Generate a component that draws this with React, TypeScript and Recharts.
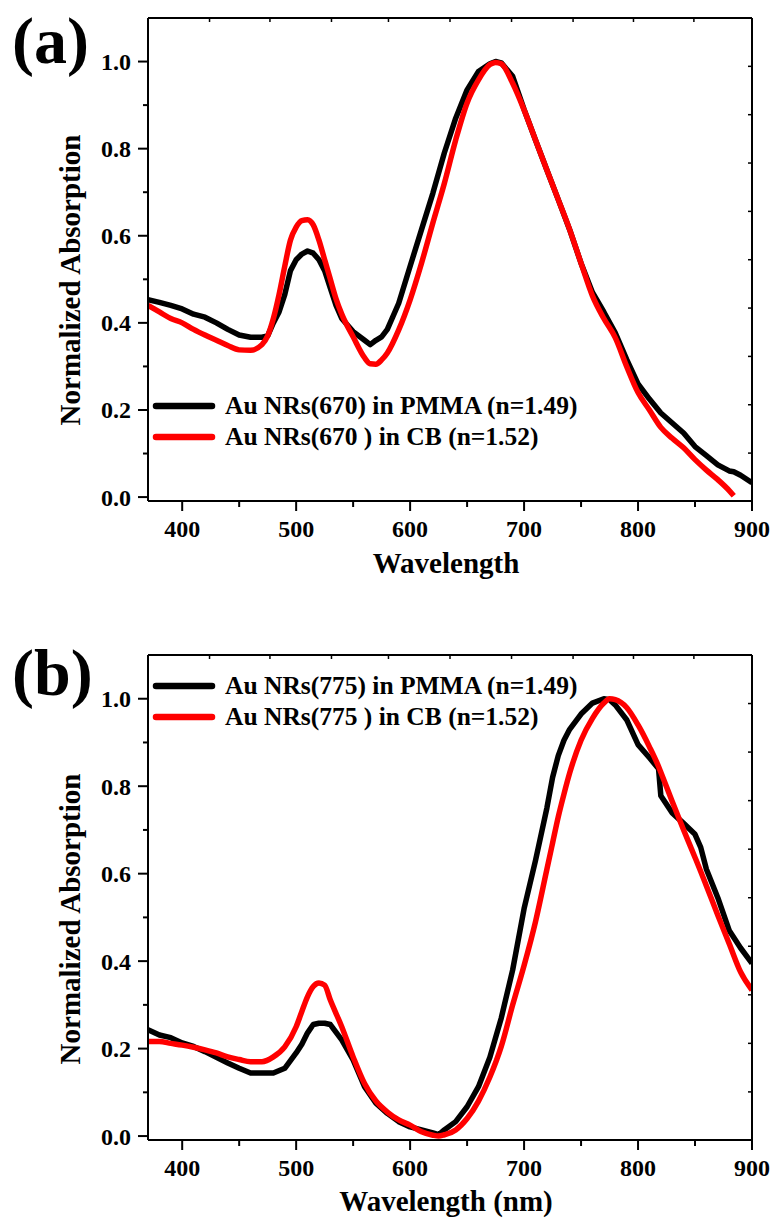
import React from 'react';
import { LineChart, Line, XAxis, YAxis, Legend } from 'recharts';

// panel (a) – Au NRs(670)
const waveA = [370, 380, 390, 400, 410, 420, 430, 440, 450, 460, 470, 475, 480, 485, 490, 495, 500, 505, 510, 515, 520, 525, 530, 535, 540, 550, 560, 565, 570, 575, 580, 590, 600, 610, 620, 630, 640, 650, 660, 670, 675, 680, 690, 700, 710, 720, 730, 740, 750, 760, 770, 780, 790, 800, 810, 820, 830, 840, 850, 860, 870, 880, 884, 890, 900];
const pmmaA = [0.453, 0.447, 0.44, 0.432, 0.42, 0.413, 0.4, 0.385, 0.372, 0.367, 0.367, 0.37, 0.4, 0.425, 0.465, 0.52, 0.545, 0.558, 0.565, 0.56, 0.545, 0.52, 0.48, 0.44, 0.41, 0.38, 0.36, 0.35, 0.36, 0.368, 0.385, 0.445, 0.53, 0.614, 0.698, 0.79, 0.87, 0.935, 0.977, 0.995, 1.0, 0.997, 0.966, 0.89, 0.82, 0.751, 0.683, 0.614, 0.537, 0.47, 0.425, 0.377, 0.316, 0.26, 0.225, 0.193, 0.17, 0.147, 0.116, 0.095, 0.074, 0.06, 0.058, 0.05, 0.033];
const cbA = [0.44, 0.425, 0.41, 0.4, 0.385, 0.372, 0.36, 0.348, 0.338, 0.337, 0.35, 0.37, 0.41, 0.465, 0.53, 0.59, 0.62, 0.635, 0.637, 0.625, 0.59, 0.545, 0.5, 0.455, 0.42, 0.368, 0.32, 0.306, 0.305, 0.315, 0.331, 0.384, 0.453, 0.537, 0.63, 0.72, 0.82, 0.905, 0.958, 0.993, 0.998, 0.995, 0.95, 0.889, 0.82, 0.751, 0.683, 0.614, 0.537, 0.462, 0.41, 0.366, 0.3, 0.24, 0.2, 0.16, 0.135, 0.113, 0.086, 0.062, 0.04, 0.015, 0.003, null, null];

// panel (b) – Au NRs(775)
const waveB = [370, 380, 390, 400, 410, 420, 430, 440, 450, 460, 470, 480, 490, 500, 505, 510, 515, 520, 525, 530, 540, 550, 560, 570, 580, 590, 600, 610, 620, 625, 630, 640, 650, 660, 670, 680, 690, 700, 710, 720, 725, 730, 735, 740, 750, 760, 770, 775, 780, 790, 800, 810, 818, 820, 830, 840, 850, 855, 860, 870, 880, 890, 900];
const pmmaB = [0.243, 0.231, 0.225, 0.213, 0.205, 0.193, 0.18, 0.167, 0.155, 0.144, 0.144, 0.144, 0.155, 0.19, 0.21, 0.236, 0.255, 0.258, 0.258, 0.255, 0.22, 0.174, 0.113, 0.075, 0.052, 0.033, 0.021, 0.014, 0.007, 0.003, 0.014, 0.033, 0.067, 0.113, 0.18, 0.27, 0.38, 0.52, 0.63, 0.75, 0.82, 0.87, 0.905, 0.93, 0.965, 0.99, 1.0, 0.998, 0.986, 0.952, 0.895, 0.865, 0.84, 0.778, 0.739, 0.715, 0.69, 0.66, 0.61, 0.545, 0.47, 0.43, 0.395];
const cbB = [0.216, 0.216, 0.212, 0.208, 0.203, 0.197, 0.19, 0.181, 0.175, 0.17, 0.17, 0.181, 0.204, 0.25, 0.285, 0.319, 0.342, 0.35, 0.345, 0.311, 0.25, 0.181, 0.12, 0.08, 0.055, 0.037, 0.025, 0.01, 0.002, 0.0, 0.003, 0.014, 0.04, 0.08, 0.135, 0.205, 0.3, 0.39, 0.49, 0.61, 0.67, 0.73, 0.782, 0.83, 0.905, 0.955, 0.99, 1.0, 0.998, 0.98, 0.94, 0.89, 0.845, 0.832, 0.765, 0.7, 0.637, 0.605, 0.572, 0.505, 0.44, 0.375, 0.334];

const xTicks = [400, 450, 500, 550, 600, 650, 700, 750, 800, 850, 900];
const yTicks = [0, 0.1, 0.2, 0.3, 0.4, 0.5, 0.6, 0.7, 0.8, 0.9, 1.0];
const topTicks = [424, 477, 531, 581, 635, 689, 743, 796, 849];
const rightTicks = [0.101, 0.212, 0.323, 0.434, 0.545, 0.656, 0.767, 0.878, 0.989];

const FONT = "'Liberation Serif', 'Times New Roman', serif";

const LeftTick = (p: any) => {
  const v = p.payload.value;
  const major = Math.round(v * 10) % 2 === 0;
  return (
    <g>
      <line x1={p.x} x2={p.x - (major ? 10 : 5)} y1={p.y} y2={p.y} stroke="#000" strokeWidth={2} />
      {major && (
        <text x={p.x - 17} y={p.y} dy={8.5} textAnchor="end" fontFamily={FONT} fontWeight="bold" fontSize={24} fill="#000">
          {v.toFixed(1)}
        </text>
      )}
    </g>
  );
};

const BottomTick = (p: any) => {
  const v = p.payload.value;
  const major = v % 100 === 0;
  return (
    <g>
      <line x1={p.x} x2={p.x} y1={p.y} y2={p.y + (major ? 10 : 6)} stroke="#000" strokeWidth={2} />
      {major && (
        <text x={p.x} y={p.y + 36} textAnchor="middle" fontFamily={FONT} fontWeight="bold" fontSize={24} fill="#000">
          {v}
        </text>
      )}
    </g>
  );
};

const TopTick = (p: any) => <line x1={p.x} x2={p.x} y1={p.y} y2={p.y + 4} stroke="#000" strokeWidth={1.5} />;
const RightTick = (p: any) => <line x1={p.x} x2={p.x - 4} y1={p.y} y2={p.y} stroke="#000" strokeWidth={1.5} />;

const order = ['pmma', 'cb'];

const LegendBox = (props: any) => {
  const items = [...(props.payload || [])].sort((a: any, b: any) => order.indexOf(a.dataKey) - order.indexOf(b.dataKey));
  return (
    <div>
      {items.map((e: any) => (
        <div key={e.dataKey} style={{ display: 'flex', alignItems: 'center', height: 31 }}>
          <svg width={64} height={10} style={{ marginRight: 9 }}>
            <line x1={4} x2={60} y1={5} y2={5} stroke={e.color} strokeWidth={6.5} strokeLinecap="round" />
          </svg>
          <span style={{ fontFamily: FONT, fontWeight: 'bold', fontSize: 25.5, lineHeight: '31px', color: '#000', whiteSpace: 'nowrap' }}>
            {e.value}
          </span>
        </div>
      ))}
    </div>
  );
};

const axisLine = { stroke: '#000', strokeWidth: 2 };

interface PanelProps {
  top: number;
  wave: number[];
  pmma: (number | null)[];
  cb: (number | null)[];
  tag: string;
  tagY: number;
  names: string[];
  xTitle: string;
  margin: { top: number; bottom: number };
  yTitleY: number;
  xTitleY: number;
  legendTop: number;
}

const Panel = ({ top, wave, pmma, cb, tag, tagY, names, xTitle, margin, yTitleY, xTitleY, legendTop }: PanelProps) => {
  const data = wave.map((w, i) => ({ w, pmma: pmma[i], cb: cb[i] }));
  return (
    <div style={{ position: 'absolute', left: 0, top, width: 775, height: 600 }}>
      <LineChart width={775} height={600} data={data} margin={{ top: margin.top, right: 22, left: 147, bottom: margin.bottom }}>
        <XAxis
          xAxisId="top"
          orientation="top"
          type="number"
          dataKey="w"
          domain={[370, 900]}
          allowDataOverflow
          height={1}
          ticks={topTicks}
          tickSize={0}
          tickMargin={0}
          tick={TopTick}
          axisLine={axisLine}
          tickLine={false}
          label={{ content: () => (
            <text x={12} y={tagY} fontFamily={FONT} fontWeight="bold" fontSize={66} fill="#000">{tag}</text>
          ) }}
        />
        <XAxis
          type="number"
          dataKey="w"
          domain={[370, 900]}
          allowDataOverflow
          height={1}
          ticks={xTicks}
          tickSize={0}
          tickMargin={0}
          tick={BottomTick}
          axisLine={axisLine}
          tickLine={false}
          label={{ content: () => (
            <text x={446} y={xTitleY} textAnchor="middle" fontFamily={FONT} fontWeight="bold" fontSize={29} fill="#000">{xTitle}</text>
          ) }}
        />
        <YAxis
          type="number"
          domain={[-0.009, 1.1]}
          allowDataOverflow
          width={1}
          ticks={yTicks}
          tickSize={0}
          tickMargin={0}
          tick={LeftTick}
          axisLine={axisLine}
          tickLine={false}
          label={{ content: () => (
            <text x={80} y={yTitleY} transform={`rotate(-90, 80, ${yTitleY})`} textAnchor="middle" fontFamily={FONT} fontWeight="bold" fontSize={29} fill="#000">
              Normalized Absorption
            </text>
          ) }}
        />
        <YAxis
          yAxisId="right"
          orientation="right"
          type="number"
          domain={[-0.009, 1.1]}
          allowDataOverflow
          width={1}
          ticks={rightTicks}
          tickSize={0}
          tickMargin={0}
          tick={RightTick}
          axisLine={axisLine}
          tickLine={false}
        />
        <Legend
          content={LegendBox}
          layout="vertical"
          align="center"
          verticalAlign="middle"
          wrapperStyle={{ left: 152, top: legendTop, width: 'auto' }}
        />
        <Line dataKey="pmma" name={names[0]} stroke="#000000" strokeWidth={5.5} dot={false} type="linear" strokeLinejoin="round" isAnimationActive={false} />
        <Line dataKey="cb" name={names[1]} stroke="#ff0000" strokeWidth={5.5} dot={false} type="monotone" strokeLinejoin="round" isAnimationActive={false} />
      </LineChart>
    </div>
  );
};

export default function App() {
  return (
    <div style={{ position: 'absolute', left: 0, top: 0, width: 775, height: 1220, background: '#fff' }}>
      <Panel
        top={0}
        wave={waveA}
        pmma={pmmaA}
        cb={cbA}
        tag="(a)"
        tagY={63}
        names={['Au NRs(670) in PMMA (n=1.49)', 'Au NRs(670 ) in CB (n=1.52)']}
        xTitle="Wavelength"
        margin={{ top: 17, bottom: 98 }}
        yTitleY={280}
        xTitleY={573}
        legendTop={390}
      />
      <Panel
        top={620}
        wave={waveB}
        pmma={pmmaB}
        cb={cbB}
        tag="(b)"
        tagY={75}
        names={['Au NRs(775) in PMMA (n=1.49)', 'Au NRs(775 ) in CB (n=1.52)']}
        xTitle="Wavelength (nm)"
        margin={{ top: 34, bottom: 79 }}
        yTitleY={299}
        xTitleY={591}
        legendTop={50}
      />
    </div>
  );
}
